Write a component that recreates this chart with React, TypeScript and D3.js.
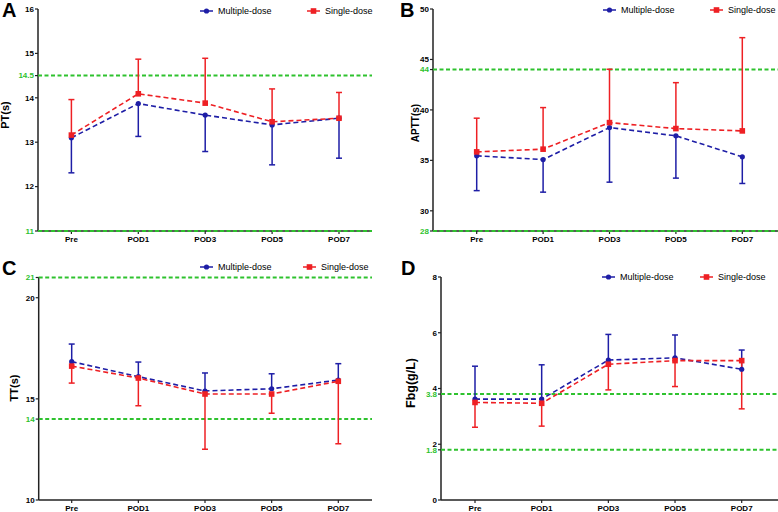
import * as d3 from "d3";

const categories = ["Pre", "POD1", "POD3", "POD5", "POD7"];

// PT(s)
const ptMultiple = [13.1, 13.87, 13.61, 13.39, 13.54];
const ptMultipleErr = [12.31, 13.13, 12.79, 12.49, 12.64];
const ptSingle = [13.16, 14.09, 13.88, 13.46, 13.54];
const ptSingleErr = [13.96, 14.87, 14.89, 14.2, 14.12];
const ptTicks = [12, 13, 14, 15, 16];
const ptRefs = [14.5, 11];

// APTT(s)
const apttMultiple = [35.45, 35.08, 38.25, 37.43, 35.35];
const apttMultipleErr = [32.0, 31.85, 32.84, 33.24, 32.71];
const apttSingle = [35.84, 36.11, 38.74, 38.15, 37.92];
const apttSingleErr = [39.18, 40.23, 44.03, 42.7, 47.16];
const apttTicks = [30, 35, 40, 45, 50];
const apttRefs = [44, 28];

// TT(s)
const ttMultiple = [16.84, 16.1, 15.39, 15.5, 15.93];
const ttMultipleErr = [17.71, 16.82, 16.28, 16.24, 16.74];
const ttSingle = [16.62, 16.03, 15.24, 15.24, 15.87];
const ttSingleErr = [15.78, 14.66, 12.51, 14.29, 12.78];
const ttTicks = [10, 15, 20];
const ttRefs = [21, 14];

// Fbg(g/L)
const fbgMultiple = [3.62, 3.62, 5.02, 5.1, 4.69];
const fbgMultipleErr = [4.8, 4.85, 5.94, 5.92, 5.38];
const fbgSingle = [3.5, 3.47, 4.87, 5.0, 5.0];
const fbgSingleErr = [2.61, 2.65, 3.95, 4.07, 3.27];
const fbgTicks = [0, 2, 4, 6, 8];
const fbgRefs = [3.8, 1.8];

const BLUE = "#1e1ea6";
const RED = "#ee2024";
const GREEN = "#2ec22e";
const AXIS = "#222";
const FONT = "'Liberation Sans', Arial, sans-serif";

const panels = [
  {
    letter: "A", title: "PT(s)", titleSize: 11, titleX: 5.5, titleY: 115,
    domain: [11, 16], ticks: ptTicks, refs: ptRefs,
    multi: ptMultiple, multiErr: ptMultipleErr, single: ptSingle, singleErr: ptSingleErr,
    axisX: 38, top: 9, bottom: 231, xEnd: 372, firstX: 71.4, lastX: 339,
    letterX: 2, letterY: 17, legendX: 200, legendY: 11, legend2X: 307,
  },
  {
    letter: "B", title: "APTT(s)", titleSize: 10, titleX: 415.5, titleY: 123,
    domain: [28, 50], ticks: apttTicks, refs: apttRefs,
    multi: apttMultiple, multiErr: apttMultipleErr, single: apttSingle, singleErr: apttSingleErr,
    axisX: 433, top: 9, bottom: 231, xEnd: 778, firstX: 476.7, lastX: 742.3,
    letterX: 400, letterY: 17, legendX: 603, legendY: 10, legend2X: 710,
  },
  {
    letter: "C", title: "TT(s)", titleSize: 11, titleX: 14, titleY: 388,
    domain: [10, 21], ticks: ttTicks, refs: ttRefs,
    multi: ttMultiple, multiErr: ttMultipleErr, single: ttSingle, singleErr: ttSingleErr,
    axisX: 38.7, top: 277.5, bottom: 500, xEnd: 372, firstX: 71.7, lastX: 338.3,
    letterX: 2, letterY: 275, legendX: 200, legendY: 267, legend2X: 303,
  },
  {
    letter: "D", title: "Fbg(g/L)", titleSize: 12.5, titleX: 411, titleY: 383,
    domain: [0, 8], ticks: fbgTicks, refs: fbgRefs,
    multi: fbgMultiple, multiErr: fbgMultipleErr, single: fbgSingle, singleErr: fbgSingleErr,
    axisX: 441, top: 277, bottom: 500, xEnd: 778, firstX: 475, lastX: 741.7,
    letterX: 401, letterY: 275, legendX: 602, legendY: 277, legend2X: 700,
  },
];

function Panel({ p }: { p: any }) {
  const y = d3.scaleLinear().domain(p.domain).range([p.bottom, p.top]);
  const x = d3.scalePoint().domain(categories).range([p.firstX, p.lastX]);
  const line = d3
    .line<number>()
    .x((_, i) => x(categories[i]) as number)
    .y((d) => y(d));

  const series = [
    { vals: p.multi, err: p.multiErr, color: BLUE, shape: "circle" },
    { vals: p.single, err: p.singleErr, color: RED, shape: "square" },
  ];

  const marker = (shape: string, cx: number, cy: number, color: string, key?: any) =>
    shape === "circle" ? (
      <circle key={key} cx={cx} cy={cy} r={2.6} fill={color} />
    ) : (
      <rect key={key} x={cx - 2.8} y={cy - 2.8} width={5.6} height={5.6} fill={color} />
    );

  return (
    <g fontFamily={FONT}>
      <text x={p.letterX} y={p.letterY} fontSize={20} fontWeight="bold">{p.letter}</text>
      <text
        transform={`translate(${p.titleX},${p.titleY}) rotate(-90)`}
        textAnchor="middle"
        dy="0.35em"
        fontSize={p.titleSize}
        fontWeight="bold"
      >
        {p.title}
      </text>

      {/* axes */}
      <line x1={p.axisX} x2={p.axisX} y1={p.top} y2={p.bottom} stroke={AXIS} strokeWidth={1.5} />
      <line x1={p.axisX} x2={p.xEnd} y1={p.bottom} y2={p.bottom} stroke={AXIS} strokeWidth={1.5} />
      {p.ticks.map((t: number) => (
        <g key={t}>
          <line x1={p.axisX - 3} x2={p.axisX} y1={y(t)} y2={y(t)} stroke={AXIS} strokeWidth={1.2} />
          <text x={p.axisX - 4} y={y(t)} dy="0.35em" textAnchor="end" fontSize={8} fontWeight="bold">{t}</text>
        </g>
      ))}
      {categories.map((c) => (
        <g key={c}>
          <line x1={x(c)} x2={x(c)} y1={p.bottom} y2={p.bottom + 3} stroke={AXIS} strokeWidth={1.2} />
          <text x={x(c)} y={p.bottom + 10.5} textAnchor="middle" fontSize={8} fontWeight="bold">{c}</text>
        </g>
      ))}

      {/* reference ranges */}
      {p.refs.map((r: number) => (
        <g key={r}>
          <line x1={p.axisX} x2={p.xEnd} y1={y(r)} y2={y(r)} stroke={GREEN} strokeWidth={2} strokeDasharray="4,2.5" />
          <line x1={p.axisX - 3} x2={p.axisX} y1={y(r)} y2={y(r)} stroke={AXIS} strokeWidth={1.2} />
          <text x={p.axisX - 4} y={y(r)} dy="0.35em" textAnchor="end" fontSize={8} fontWeight="bold" fill={GREEN}>{r}</text>
        </g>
      ))}

      {/* error bars */}
      {series.map((s, si) => (
        <g key={si}>
          {s.vals.map((v: number, i: number) => {
            const cx = x(categories[i]) as number;
            return (
              <g key={i} stroke={s.color} strokeWidth={1.5}>
                <line x1={cx} x2={cx} y1={y(v)} y2={y(s.err[i])} />
                <line x1={cx - 3} x2={cx + 3} y1={y(s.err[i])} y2={y(s.err[i])} />
              </g>
            );
          })}
        </g>
      ))}
      {/* mean lines */}
      {series.map((s, si) => (
        <g key={si}>
          <path d={line(s.vals) as string} fill="none" stroke={s.color} strokeWidth={1.6} strokeDasharray="5,3" />
          {s.vals.map((v: number, i: number) => marker(s.shape, x(categories[i]) as number, y(v), s.color, i))}
        </g>
      ))}

      {/* legend */}
      {[
        { lx: p.legendX, label: "Multiple-dose", color: BLUE, shape: "circle" },
        { lx: p.legend2X, label: "Single-dose", color: RED, shape: "square" },
      ].map((l) => (
        <g key={l.label}>
          <line x1={l.lx} x2={l.lx + 13} y1={p.legendY} y2={p.legendY} stroke={l.color} strokeWidth={1.5} />
          {marker(l.shape, l.lx + 6.5, p.legendY, l.color)}
          <text x={l.lx + 18} y={p.legendY} dy="0.35em" fontSize={9}>{l.label}</text>
        </g>
      ))}
    </g>
  );
}

export default function App() {
  return (
    <svg
      width={778}
      height={512}
      style={{ position: "absolute", left: 0, top: 0, background: "#fff" }}
    >
      {panels.map((p) => (
        <Panel key={p.letter} p={p} />
      ))}
    </svg>
  );
}
